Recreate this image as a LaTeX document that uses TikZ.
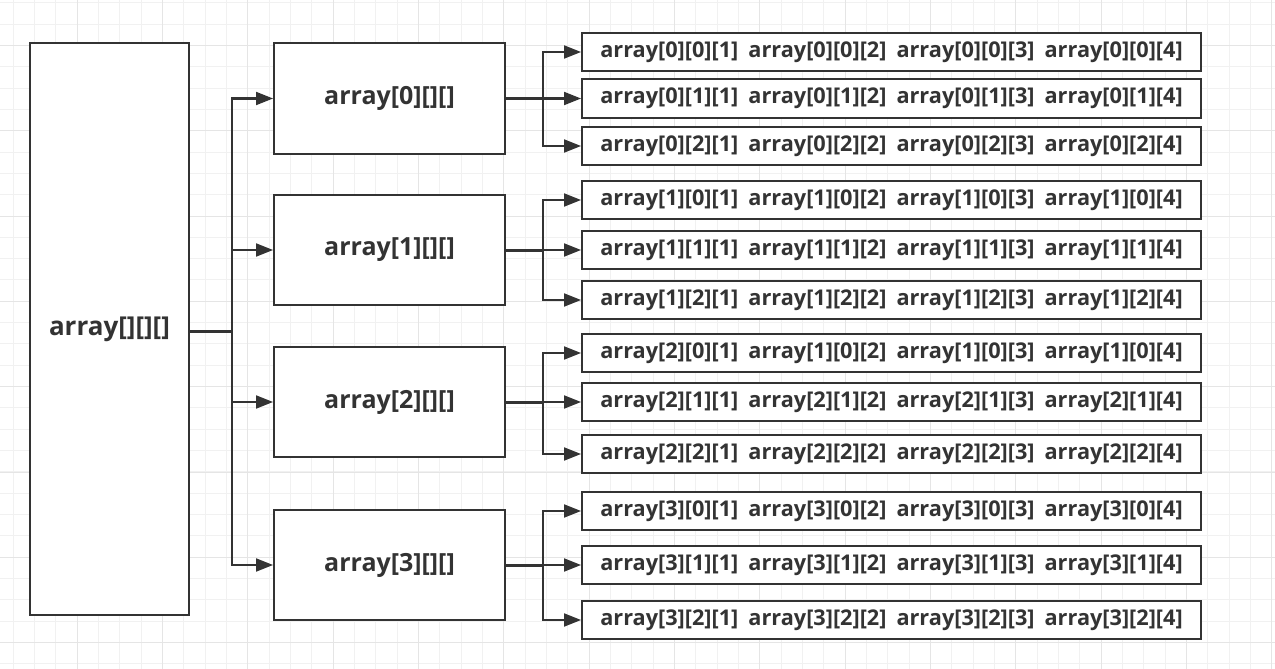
\documentclass[tikz,border=0pt]{standalone}
\usepackage{fontspec}
\setmainfont{Open Sans}
\usepackage{tikz}
\usetikzlibrary{arrows.meta,positioning}
\definecolor{ink}{RGB}{51,51,51}
\definecolor{gridminor}{RGB}{241,241,241}
\definecolor{gridmajor}{RGB}{229,229,229}
\newcommand{\cellgap}{\hspace{10pt}}
\tikzset{
  box/.style={draw=ink,line width=2pt,fill=white,text=ink,inner sep=0pt},
  rootbox/.style={box,minimum width=159pt,minimum height=572pt,
    font=\fontsize{26}{31}\selectfont\bfseries},
  planebox/.style={box,minimum width=231pt,minimum height=110pt,
    font=\fontsize{25}{30}\selectfont\bfseries},
  rowbox/.style={box,anchor=west,minimum width=619pt,minimum height=38pt,
    font=\fontsize{21.7}{26}\selectfont\bfseries},
  feed/.style={ink,line width=2pt,-{Triangle[length=17pt,width=13pt]}},
  stub/.style={ink,line width=3pt},
  minorline/.style={gridminor,line width=1pt},
  majorline/.style={gridmajor,line width=1pt}
}

\begin{document}
\begin{tikzpicture}[x=1pt,y=-1pt]
  \useasboundingbox (0,0) rectangle (1275,669);
  \fill[white] (0,0) rectangle (1275,669);
  % background grid
  \foreach \k in {0,...,59} \draw[minorline] ({13.3+21.33*\k},0) -- ++(0,669);
  \foreach \k in {0,...,31} \draw[minorline] (0,{2.7+21.33*\k}) -- ++(1275,0);
  \foreach \k in {0,...,14} \draw[majorline] ({77.3+85.33*\k},0) -- ++(0,669);
  \foreach \k in {0,...,7} \draw[majorline] (0,{45.4+85.33*\k}) -- ++(1275,0);

  % whole array
  \node[rootbox] (arr) at (109.5,329) {array[][][]\hspace{8pt}};
  \coordinate (fork) at (232,331);

  % planes
  \node[planebox] (p0) at (389.5,98.5) {array[0][][]};
  \node[planebox] (p1) at (389.5,250) {array[1][][]};
  \node[planebox] (p2) at (389.5,402) {array[2][][]};
  \node[planebox] (p3) at (389.5,565) {array[3][][]};
  \coordinate (f0) at (543,98.5);
  \coordinate (f1) at (543,250);
  \coordinate (f2) at (543,402);
  \coordinate (f3) at (543,565);

  % rows
  \node[rowbox] (r00) at (581,52)  {array[0][0][1]\cellgap array[0][0][2]\cellgap array[0][0][3]\cellgap array[0][0][4]};
  \node[rowbox] (r01) at (581,98.5) {array[0][1][1]\cellgap array[0][1][2]\cellgap array[0][1][3]\cellgap array[0][1][4]};
  \node[rowbox] (r02) at (581,146) {array[0][2][1]\cellgap array[0][2][2]\cellgap array[0][2][3]\cellgap array[0][2][4]};
  \node[rowbox] (r10) at (581,200) {array[1][0][1]\cellgap array[1][0][2]\cellgap array[1][0][3]\cellgap array[1][0][4]};
  \node[rowbox] (r11) at (581,250) {array[1][1][1]\cellgap array[1][1][2]\cellgap array[1][1][3]\cellgap array[1][1][4]};
  \node[rowbox] (r12) at (581,300) {array[1][2][1]\cellgap array[1][2][2]\cellgap array[1][2][3]\cellgap array[1][2][4]};
  \node[rowbox] (r20) at (581,353) {array[2][0][1]\cellgap array[1][0][2]\cellgap array[1][0][3]\cellgap array[1][0][4]};
  \node[rowbox] (r21) at (581,402) {array[2][1][1]\cellgap array[2][1][2]\cellgap array[2][1][3]\cellgap array[2][1][4]};
  \node[rowbox] (r22) at (581,454) {array[2][2][1]\cellgap array[2][2][2]\cellgap array[2][2][3]\cellgap array[2][2][4]};
  \node[rowbox] (r30) at (581,511) {array[3][0][1]\cellgap array[3][0][2]\cellgap array[3][0][3]\cellgap array[3][0][4]};
  \node[rowbox] (r31) at (581,565) {array[3][1][1]\cellgap array[3][1][2]\cellgap array[3][1][3]\cellgap array[3][1][4]};
  \node[rowbox] (r32) at (581,620) {array[3][2][1]\cellgap array[3][2][2]\cellgap array[3][2][3]\cellgap array[3][2][4]};

  % connectors
  \draw[stub] (arr.east |- fork) -- (fork);
  \foreach \p in {p0,p1,p2,p3}
    \draw[feed] (fork) |- (\p.west);
  \foreach \i in {0,1,2,3} {
    \draw[stub] (p\i.east) -- (f\i);
    \foreach \j in {0,1,2}
      \draw[feed] (f\i) |- (r\i\j.west);
  }
\end{tikzpicture}
\end{document}
